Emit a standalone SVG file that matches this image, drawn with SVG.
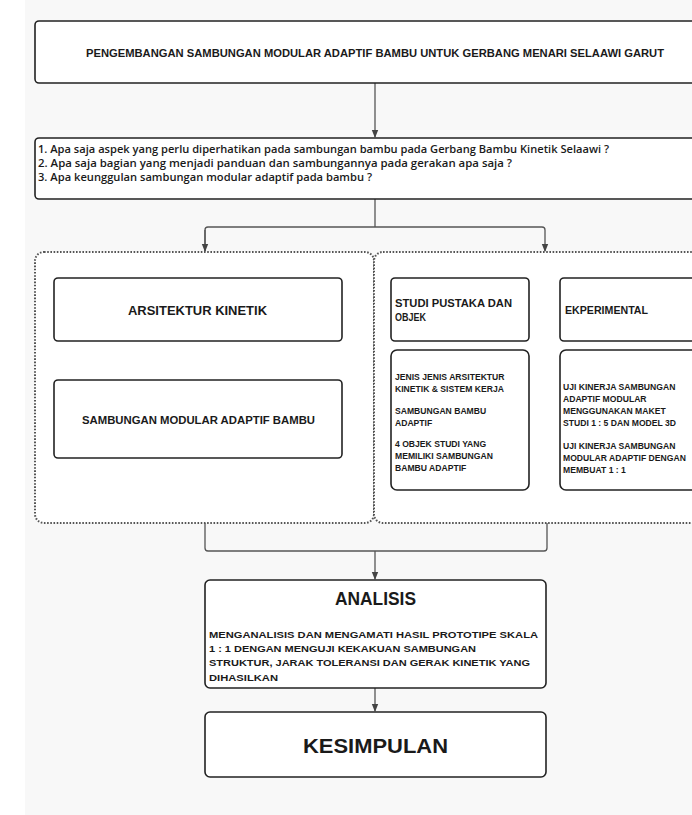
<svg xmlns="http://www.w3.org/2000/svg" width="692" height="815" viewBox="0 0 692 815">
<defs>
<marker id="arr" viewBox="0 0 8 8" refX="7" refY="4" markerWidth="8" markerHeight="8" markerUnits="userSpaceOnUse" orient="auto">
<path d="M0,0.8 L8,4 L0,7.2 Z" fill="#444"/>
</marker>
<style>
.bg{fill:#f8f8f8}
.box{fill:#fff;stroke:#222;stroke-width:1.6}
.cont{fill:#fff;stroke:#555;stroke-width:2;stroke-dasharray:1.6 1.6}
.con{fill:none;stroke:#555;stroke-width:1.3}
.t{font-family:"Liberation Sans",Arial,sans-serif;font-weight:bold;fill:#1a1a1a}
.q{font-family:"Open Sans","Liberation Sans",sans-serif;font-weight:600;fill:#1a1a1a;font-size:10.5px}
.s{font-size:8.6px}
</style>
</defs>
<rect x="0" y="0" width="692" height="815" fill="#fff"/>
<rect class="bg" x="25" y="0" width="667" height="815"/>

<g id="containers">
<rect class="cont" x="35" y="252" width="339" height="271" rx="9"/>
<rect class="cont" x="374" y="252" width="340" height="271" rx="9"/>
</g>

<g id="connectors">
<path class="con" d="M375,83 V137" marker-end="url(#arr)"/>
<path class="con" d="M375,199 V227"/>
<path class="con" d="M205,251 V230 Q205,227 208,227 H542 Q545,227 545,230 V251" marker-end="url(#arr)"/>
<path class="con" d="M205,230 V251" marker-end="url(#arr)"/>
<path class="con" d="M205,523 V548 Q205,551 208,551 H544 Q547,551 547,548 V523"/>
<path class="con" d="M375,551 V579" marker-end="url(#arr)"/>
<path class="con" d="M375,688 V711" marker-end="url(#arr)"/>
</g>

<g id="title">
<rect class="box" x="35" y="21" width="700" height="62" rx="4"/>
<text class="t" x="86" y="57" font-size="11" textLength="578" lengthAdjust="spacingAndGlyphs">PENGEMBANGAN SAMBUNGAN MODULAR ADAPTIF BAMBU UNTUK GERBANG MENARI SELAAWI GARUT</text>
</g>

<g id="questions">
<rect class="box" x="35" y="138" width="700" height="61" rx="4"/>
<text class="q" x="38" y="152.5" textLength="571" lengthAdjust="spacingAndGlyphs">1. Apa saja aspek yang perlu diperhatikan pada sambungan bambu pada Gerbang Bambu Kinetik Selaawi ?</text>
<text class="q" x="38" y="166.5" textLength="474" lengthAdjust="spacingAndGlyphs">2. Apa saja bagian yang menjadi panduan dan sambungannya pada gerakan apa saja ?</text>
<text class="q" x="38" y="180.5" textLength="334" lengthAdjust="spacingAndGlyphs">3. Apa keunggulan sambungan modular adaptif pada bambu ?</text>
</g>

<g id="arsitektur">
<rect class="box" x="54" y="278" width="288" height="63" rx="4"/>
<text class="t" x="128" y="314.5" font-size="13" textLength="139" lengthAdjust="spacingAndGlyphs">ARSITEKTUR KINETIK</text>
</g>

<g id="sambungan">
<rect class="box" x="54" y="380" width="288" height="78" rx="4"/>
<text class="t" x="82" y="424" font-size="10.5" textLength="233" lengthAdjust="spacingAndGlyphs">SAMBUNGAN MODULAR ADAPTIF BAMBU</text>
</g>

<g id="studi">
<rect class="box" x="391" y="278" width="138" height="63" rx="4"/>
<text class="t" x="395" y="307" font-size="10.5" textLength="117" lengthAdjust="spacingAndGlyphs">STUDI PUSTAKA DAN</text>
<text class="t" x="395" y="321" font-size="10.5" textLength="31" lengthAdjust="spacingAndGlyphs">OBJEK</text>
</g>

<g id="studi-detail">
<rect class="box" x="391" y="350" width="138" height="140" rx="6"/>
<text class="t s" x="395" y="380">JENIS JENIS ARSITEKTUR</text>
<text class="t s" x="395" y="392">KINETIK &amp; SISTEM KERJA</text>
<text class="t s" x="395" y="413.5">SAMBUNGAN BAMBU</text>
<text class="t s" x="395" y="425.5">ADAPTIF</text>
<text class="t s" x="395" y="447">4 OBJEK STUDI YANG</text>
<text class="t s" x="395" y="459">MEMILIKI SAMBUNGAN</text>
<text class="t s" x="395" y="471">BAMBU ADAPTIF</text>
</g>

<g id="eksperimental">
<rect class="box" x="560" y="278" width="160" height="63" rx="4"/>
<text class="t" x="565" y="314" font-size="10.5" textLength="83" lengthAdjust="spacingAndGlyphs">EKPERIMENTAL</text>
</g>

<g id="eksperimental-detail">
<rect class="box" x="560" y="350" width="160" height="140" rx="6"/>
<text class="t s" x="563" y="390">UJI KINERJA SAMBUNGAN</text>
<text class="t s" x="563" y="402">ADAPTIF MODULAR</text>
<text class="t s" x="563" y="414">MENGGUNAKAN MAKET</text>
<text class="t s" x="563" y="426">STUDI 1 : 5 DAN MODEL 3D</text>
<text class="t s" x="563" y="449">UJI KINERJA SAMBUNGAN</text>
<text class="t s" x="563" y="461">MODULAR ADAPTIF DENGAN</text>
<text class="t s" x="563" y="473">MEMBUAT 1 : 1</text>
</g>

<g id="analisis">
<rect class="box" x="205" y="580" width="341" height="108" rx="5"/>
<text class="t" x="335" y="604.5" font-size="18" textLength="81" lengthAdjust="spacingAndGlyphs">ANALISIS</text>
<text class="t" x="209" y="638.4" font-size="9.5" textLength="329" lengthAdjust="spacingAndGlyphs">MENGANALISIS DAN MENGAMATI HASIL PROTOTIPE SKALA</text>
<text class="t" x="209" y="652.4" font-size="9.5" textLength="267" lengthAdjust="spacingAndGlyphs">1 : 1 DENGAN MENGUJI KEKAKUAN SAMBUNGAN</text>
<text class="t" x="209" y="666.4" font-size="9.5" textLength="321" lengthAdjust="spacingAndGlyphs">STRUKTUR, JARAK TOLERANSI DAN GERAK KINETIK YANG</text>
<text class="t" x="209" y="681.4" font-size="9.5" textLength="69" lengthAdjust="spacingAndGlyphs">DIHASILKAN</text>
</g>

<g id="kesimpulan">
<rect class="box" x="205" y="712" width="341" height="65" rx="5"/>
<text class="t" x="303" y="752.5" font-size="21" textLength="145" lengthAdjust="spacingAndGlyphs">KESIMPULAN</text>
</g>
</svg>
